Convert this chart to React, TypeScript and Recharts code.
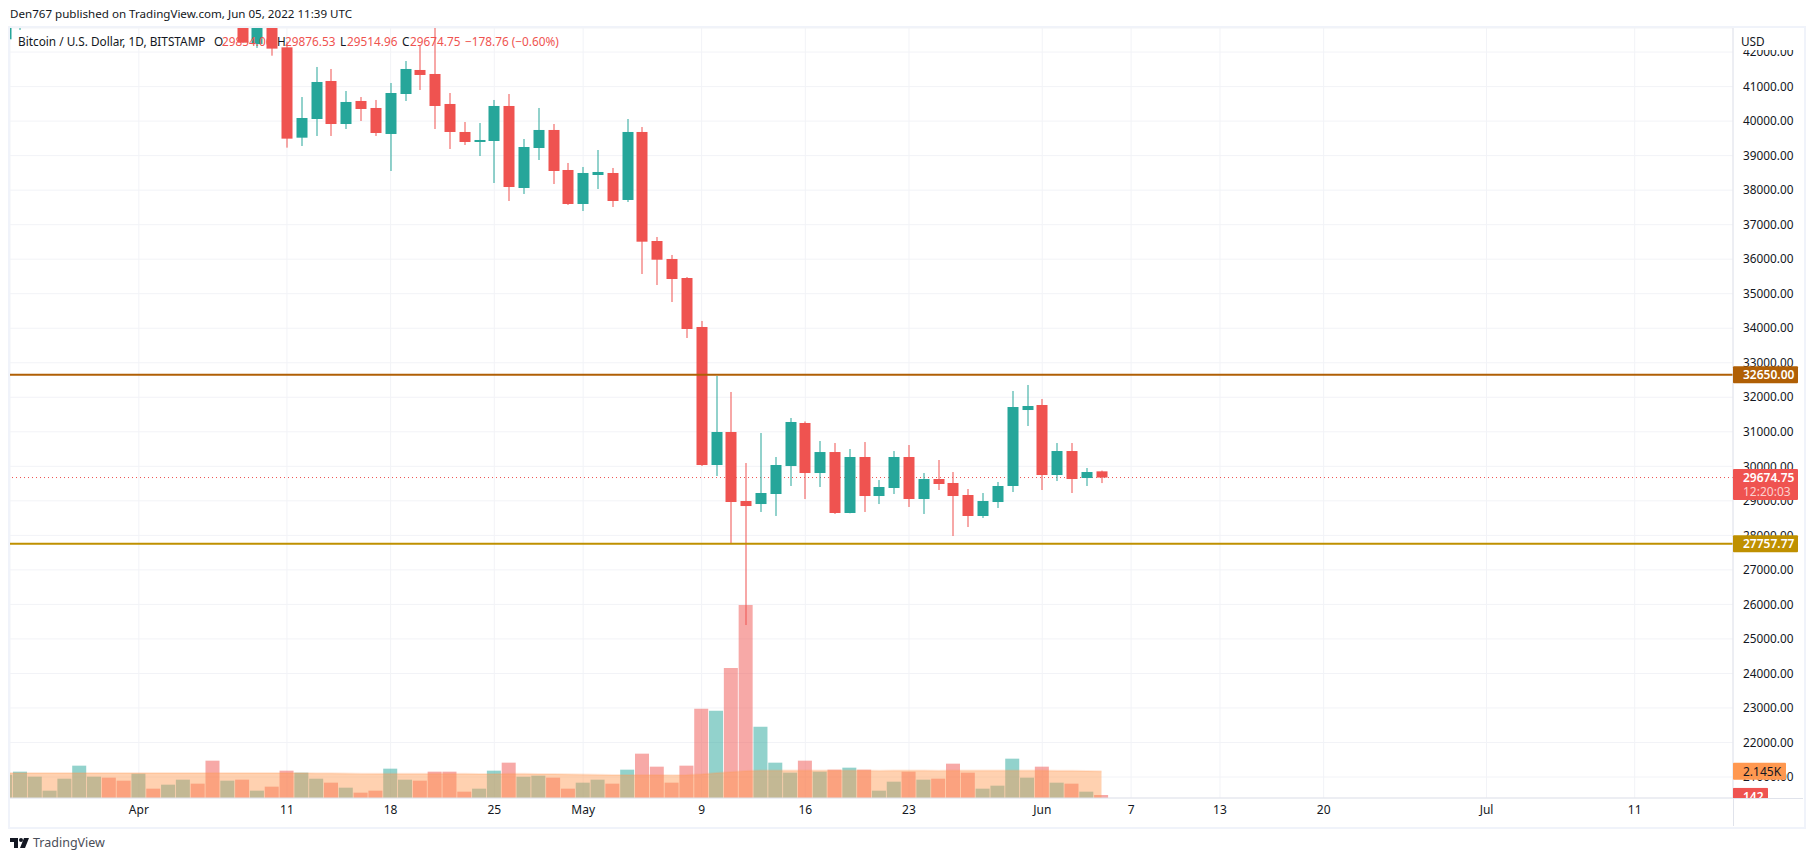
import React from "react";
import {
  Area,
  Bar,
  CartesianGrid,
  Cell,
  ComposedChart,
  ReferenceLine,
  XAxis,
  YAxis,
} from "recharts";

// one entry per day, Mar 23 (day 0) to Jun 5 2022 (day 74)
const opens = [
  42370, 42900, 43990, 44330, 44530, 46840, 47140, 47450, 47070, 45530,
  46320, 45830, 46450, 46620, 45500, 43170, 43450, 42230, 42750, 42137,
  39520, 40061, 41162, 39916, 40583, 40380, 39627, 40785, 41481, 41365,
  40496, 39685, 39395, 39424, 40438, 38062, 39221, 39743, 38584, 37599,
  38439, 38497, 37715, 39685, 36527, 36006, 35455, 34036, 30038, 30994,
  28995, 28908, 29198, 30009, 31255, 29806, 30414, 28648, 30270, 29140,
  29372, 30270, 29053, 29632, 29517, 29169, 28561, 28966, 29430, 31631,
  31776, 29748, 30443, 29661, 29854.06,
];
const highs = [
  43030, 44220, 45000, 44800, 46950, 48250, 48100, 47700, 47600, 46700,
  47200, 47450, 46900, 47200, 45550, 43900, 43950, 42800, 43400, 42301,
  40698, 41568, 41510, 40872, 40698, 40612, 41104, 41741, 42205, 42976,
  40814, 39974, 39945, 40612, 40785, 39482, 40380, 39916, 38787, 38671,
  39163, 38642, 40061, 39829, 36643, 36122, 35484, 34210, 32617, 32153,
  30096, 30965, 30270, 31400, 31300, 30733, 30675, 30502, 30704, 29603,
  30443, 30617, 29806, 30183, 29835, 29343, 29227, 29546, 32182, 32356,
  31950, 30675, 30675, 29951, 29876.53,
];
const lows = [
  42350, 42640, 43600, 44050, 44450, 46680, 46950, 46550, 45300, 44300,
  45650, 45550, 45150, 45400, 43150, 42750, 42272, 42120, 41895, 39231,
  39279, 39569, 39569, 39771, 40003, 39569, 38555, 40583, 40901, 39771,
  39192, 39308, 38989, 38207, 37686, 37889, 38873, 38178, 37570, 37396,
  38033, 37512, 37657, 35571, 35252, 34760, 33717, 30009, 29720, 27779,
  25403, 28677, 28561, 29430, 29053, 29401, 28619, 28640, 28677, 28908,
  29198, 28822, 28619, 29314, 27981, 28242, 28503, 28793, 29256, 31168,
  29314, 29574, 29227, 29430, 29514.96,
];
const closes = [
  42900, 43980, 44330, 44530, 46840, 47140, 47450, 47070, 45530, 46320,
  45830, 46450, 46620, 45500, 43170, 43450, 42272, 42750, 42100, 39492,
  40090, 41133, 39916, 40554, 40351, 39656, 40814, 41510, 41336, 40438,
  39685, 39395, 39453, 40438, 38091, 39250, 39743, 38555, 37599, 38497,
  38526, 37686, 39685, 36507, 35985, 35426, 33978, 30038, 30994, 28966,
  28850, 29227, 30038, 31284, 29806, 30414, 28648, 30270, 29140, 29401,
  30270, 29053, 29632, 29488, 29140, 28561, 28995, 29430, 31718, 31747,
  29748, 30443, 29632, 29835, 29674.75,
];
const volumes = [
  1867, 2107, 1707, 587, 1547, 2587, 1707, 1627, 1387, 1947,
  747, 1067, 1467, 1147, 2987, 1387, 1467, 587, 907, 2187,
  2027, 1547, 1227, 827, 427, 587, 2347, 1467, 1387, 2107,
  2107, 507, 747, 2187, 2827, 1707, 1787, 1627, 747, 1227,
  1467, 1147, 2267, 3547, 2507, 1227, 2587, 7147, 6987, 10400,
  15440, 5707, 2827, 2027, 2987, 2107, 2267, 2427, 2267, 587,
  1307, 2107, 1467, 1547, 2747, 2027, 747, 987, 3147, 1627,
  2507, 1227, 1147, 507, 142,
];
const volumeMa = [
  2010, 2010, 2005, 2000, 2000, 2005, 2005, 2000, 2000, 2000,
  1995, 1995, 1995, 1995, 2010, 2005, 2005, 2000, 1995, 2000,
  1995, 1985, 1975, 1965, 1950, 1945, 1950, 1945, 1940, 1945,
  1950, 1935, 1925, 1930, 1945, 1940, 1925, 1915, 1895, 1880,
  1860, 1845, 1840, 1850, 1850, 1830, 1835, 1900, 2000, 2090,
  2170, 2200, 2205, 2200, 2205, 2195, 2200, 2205, 2200, 2190,
  2195, 2205, 2200, 2190, 2200, 2195, 2205, 2195, 2200, 2195,
  2195, 2185, 2175, 2160, 2145,
];

const priceTicks = [
  21000, 22000, 23000, 24000, 25000, 26000, 27000, 28000, 29000, 30000, 31000,
  32000, 33000, 34000, 35000, 36000, 37000, 38000, 39000, 40000, 41000, 42000,
];
const dayTicks = [9, 19, 26, 33, 39, 47, 54, 61, 70, 76, 82, 89, 100, 110];
const dayLabels = ["Apr", "11", "18", "25", "May", "9", "16", "23", "Jun", "7", "13", "20", "Jul", "11"];

const resistance = 32650;
const support = 27757.77;
const lastPrice = 29674.75;
const lastVolume = 142;
const lastMa = 2145;

const UP = "#26a69a";
const DOWN = "#ef5350";
const FONT = "'Noto Sans', sans-serif";

const data = opens.map((open, i) => ({
  day: i,
  open,
  high: highs[i],
  low: lows[i],
  close: closes[i],
  volume: volumes[i],
  ma: volumeMa[i],
}));

const Candle = (props: any) => {
  const { x, y, width, height, payload } = props;
  const { open, close, high, low } = payload;
  const perUnit = height / (high - low);
  const at = (v: number) => y + (high - v) * perUnit;
  const color = close >= open ? UP : DOWN;
  const cx = Math.round(x + width / 2);
  const top = at(Math.max(open, close));
  const bottom = at(Math.min(open, close));
  return (
    <g>
      <rect x={cx - 0.5} y={y} width={1} height={height} fill={color} />
      <rect
        x={cx - 5.5}
        y={top}
        width={11}
        height={Math.max(bottom - top, 1)}
        fill={color}
      />
    </g>
  );
};

// price tag sitting on the axis, at the level of its reference line
const Tag = (props: any) => {
  const { viewBox, lines, fill, color = "#fff", tagWidth = 65, cut, bold = true } = props;
  const right = viewBox.x + viewBox.width;
  const top = viewBox.y - 8.5;
  const h = lines.length > 1 ? 31 : 17;
  const id = `tag-${String(lines[0]).replace(/\W/g, "")}`;
  return (
    <g clipPath={cut ? `url(#${id})` : undefined}>
      {cut && (
        <clipPath id={id}>
          <rect x={right} y={top} width={tagWidth} height={cut} />
        </clipPath>
      )}
      <rect x={right} y={top} width={tagWidth} height={h} rx={1} fill={fill} />
      {lines.map((t: string, i: number) => (
        <text
          key={t}
          x={right + 10}
          y={top + 13 + i * 14}
          fontFamily={FONT}
          fontSize={12}
          fontWeight={bold && i === 0 ? 600 : 400}
          fill={i === 0 ? color : "#fbd0cf"}
        >
          {t}
        </text>
      ))}
    </g>
  );
};

const Caption = ({ x, y, color = "#131722", size = 11.8, children }: any) => (
  <div
    style={{
      position: "absolute",
      left: x,
      top: y,
      color,
      fontSize: size,
      lineHeight: "16px",
      fontFamily: FONT,
      whiteSpace: "nowrap",
    }}
  >
    {children}
  </div>
);

const App = () => (
  <div
    style={{
      position: "absolute",
      left: 0,
      top: 0,
      width: 1813,
      height: 861,
      background: "#fff",
      overflow: "hidden",
    }}
  >
    <div
      style={{
        position: "absolute",
        left: 8,
        top: 26,
        width: 1794,
        height: 799,
        border: "2px solid #f0f3fa",
      }}
    />
    <div style={{ position: "absolute", left: 10, top: 0 }}>
      <ComposedChart
        width={1793}
        height={861}
        data={data}
        margin={{ top: 28, right: 0, bottom: 35, left: 0 }}
      >
        <CartesianGrid stroke="#f2f3f7" xAxisId="time" yAxisId="price" />
        <XAxis
          xAxisId="time"
          dataKey="day"
          type="number"
          scale="linear"
          domain={[0.3, 116.64]}
          allowDataOverflow
          ticks={dayTicks}
          interval={0}
          height={28}
          tickLine={false}
          tickSize={0}
          tickMargin={7}
          axisLine={{ stroke: "#e0e3eb" }}
          tick={{ fontSize: 12, fill: "#131722", fontFamily: FONT }}
          tickFormatter={(d: number) => dayLabels[dayTicks.indexOf(d)]}
        />
        <XAxis
          xAxisId="candles"
          dataKey="day"
          type="number"
          scale="linear"
          domain={[0.3, 116.64]}
          allowDataOverflow
          height={0}
          hide
        />
        <YAxis
          yAxisId="price"
          orientation="right"
          width={70}
          domain={[20392, 42697]}
          allowDataOverflow
          ticks={priceTicks}
          interval={0}
          tickLine={false}
          tickSize={0}
          tickMargin={10}
          axisLine={{ stroke: "#e0e3eb" }}
          tick={{ fontSize: 11.8, fill: "#131722", fontFamily: FONT, textAnchor: "start" }}
          tickFormatter={(v: number) => v.toFixed(2)}
        />
        <YAxis yAxisId="volume" domain={[0, 61600]} allowDataOverflow hide />
        <Bar
          xAxisId="time"
          yAxisId="volume"
          dataKey="volume"
          barSize={14}
          minPointSize={3}
          isAnimationActive={false}
          zIndex={300}
        >
          {data.map((d) => (
            <Cell key={d.day} fill={d.close >= d.open ? UP : DOWN} fillOpacity={0.5} />
          ))}
        </Bar>
        <Area
          xAxisId="time"
          yAxisId="volume"
          dataKey="ma"
          type="linear"
          fill="#ff9850"
          fillOpacity={0.45}
          stroke="#ff9850"
          strokeOpacity={0.2}
          strokeWidth={2}
          dot={false}
          activeDot={false}
          isAnimationActive={false}
          zIndex={320}
        />
        <ReferenceLine
          xAxisId="candles"
          yAxisId="price"
          y={lastPrice}
          stroke={DOWN}
          strokeDasharray="1 3"
          zIndex={330}
        />
        <Bar
          xAxisId="candles"
          yAxisId="price"
          dataKey={(d: any) => [d.low, d.high]}
          barSize={11}
          shape={<Candle />}
          isAnimationActive={false}
          zIndex={340}
        />
        <ReferenceLine
          xAxisId="candles"
          yAxisId="price"
          y={resistance}
          stroke="#b05f05"
          strokeWidth={2}
          zIndex={350}
        />
        <ReferenceLine
          xAxisId="candles"
          yAxisId="price"
          y={support}
          stroke="#bf9000"
          strokeWidth={2}
          zIndex={350}
        />
        <ReferenceLine
          xAxisId="candles"
          yAxisId="price"
          y={lastPrice}
          stroke="none"
          zIndex={2100}
          label={<Tag lines={["29674.75", "12:20:03"]} fill={DOWN} />}
        />
        <ReferenceLine
          xAxisId="candles"
          yAxisId="price"
          y={resistance}
          stroke="none"
          zIndex={2100}
          label={<Tag lines={["32650.00"]} fill="#b05f05" />}
        />
        <ReferenceLine
          xAxisId="candles"
          yAxisId="price"
          y={support}
          stroke="none"
          zIndex={2100}
          label={<Tag lines={["27757.77"]} fill="#bf9000" />}
        />
        <ReferenceLine
          xAxisId="time"
          yAxisId="volume"
          y={lastMa}
          stroke="none"
          zIndex={2100}
          label={<Tag lines={["2.145K"]} fill="#ff9850" color="#131722" tagWidth={53} bold={false} />}
        />
        <ReferenceLine
          xAxisId="time"
          yAxisId="volume"
          y={lastVolume}
          stroke="none"
          zIndex={2100}
          label={<Tag lines={["142"]} fill={DOWN} tagWidth={35} cut={11} />}
        />
      </ComposedChart>
    </div>

    <div style={{ position: "absolute", left: 1733, top: 798, width: 70, height: 1, background: "#e0e3eb" }} />
    <div style={{ position: "absolute", left: 1733, top: 798, width: 1, height: 28, background: "#e0e3eb" }} />

    <Caption x={10} y={6} size={11.6}>Den767 published on TradingView.com, Jun 05, 2022 11:39 UTC</Caption>
    <Caption x={18} y={33}>Bitcoin / U.S. Dollar, 1D, BITSTAMP</Caption>
    <Caption x={214} y={33}>O</Caption>
    <Caption x={222} y={33} color={DOWN}>29854.06</Caption>
    <Caption x={277} y={33}>H</Caption>
    <Caption x={285} y={33} color={DOWN}>29876.53</Caption>
    <Caption x={340} y={33}>L</Caption>
    <Caption x={347} y={33} color={DOWN}>29514.96</Caption>
    <Caption x={402} y={33}>C</Caption>
    <Caption x={410} y={33} color={DOWN}>29674.75</Caption>
    <Caption x={465} y={33} color={DOWN}>−178.76 (−0.60%)</Caption>

    <div style={{ position: "absolute", left: 1735, top: 28, width: 67, height: 22, background: "#fff" }} />
    <Caption x={1741} y={33}>USD</Caption>

    <svg style={{ position: "absolute", left: 10, top: 838 }} width={19} height={11} viewBox="0 0 19 11">
      <path d="M0 0h8v10H4V4H0z M10 10 L14 0 H19 L15 10z" fill="#131722" />
      <circle cx={11} cy={2} r={2} fill="#131722" />
    </svg>
    <Caption x={33} y={835} color="#4a4e58" size={12.5}>TradingView</Caption>
  </div>
);

export default App;
